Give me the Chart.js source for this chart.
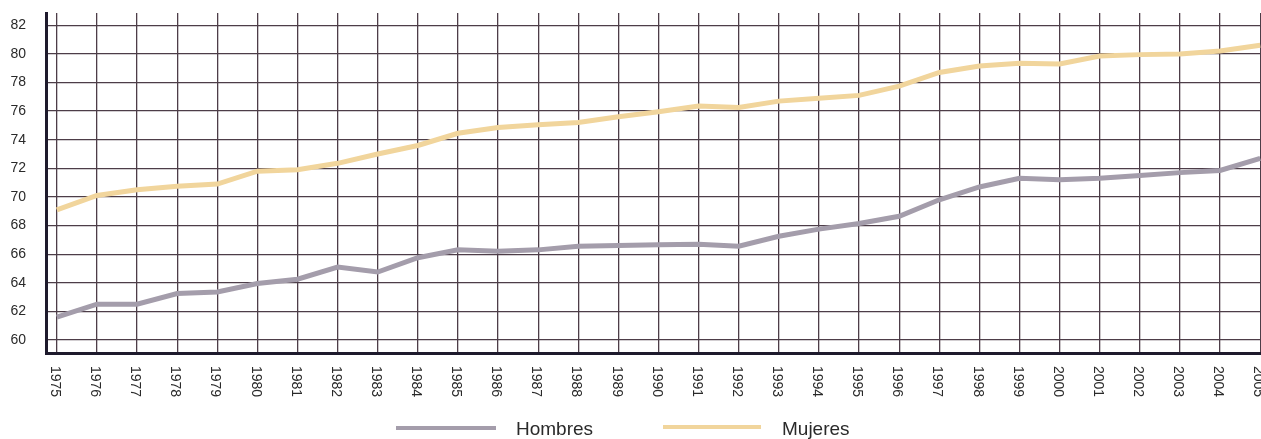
<!DOCTYPE html>
<html>
<head>
<meta charset="utf-8">
<script src="https://cdn.jsdelivr.net/npm/chart.js@4/dist/chart.umd.min.js"></script>
<style>
	html, body { margin: 0; padding: 0; background: #ffffff; }
	#wrap { position: relative; width: 1261px; height: 439px; overflow: hidden; }
	#grafico { position: absolute; left: 0; top: 0; }
	.leyenda-linea { position: absolute; height: 4px; }
	.leyenda-texto { position: absolute; font-family: 'Liberation Sans', Arial, sans-serif; font-size: 19px; color: #2a2a2a; line-height: 20px; }
</style>
</head>
<body>
<div id="wrap">
	<canvas id="grafico" width="1261" height="439"></canvas>
	<div class="leyenda-linea" id="leg_h" style="left:396px; top:426px; width:100px;"></div>
	<div class="leyenda-texto" id="txt_h" style="left:516px; top:419px;"></div>
	<div class="leyenda-linea" id="leg_m" style="left:663px; top:425px; width:98px;"></div>
	<div class="leyenda-texto" id="txt_m" style="left:782px; top:419px;"></div>
</div>
<script>
// datos (esperanza de vida)
const years = [1975, 1976, 1977, 1978, 1979, 1980, 1981, 1982, 1983, 1984,
	1985, 1986, 1987, 1988, 1989, 1990, 1991, 1992, 1993, 1994,
	1995, 1996, 1997, 1998, 1999, 2000, 2001, 2002, 2003, 2004, 2005];
const hombres = [61.6, 62.5, 62.5, 63.25, 63.35, 63.95, 64.25, 65.1, 64.75, 65.75,
	66.3, 66.2, 66.3, 66.55, 66.6, 66.65, 66.7, 66.55, 67.25, 67.75,
	68.15, 68.65, 69.8, 70.7, 71.3, 71.2, 71.3, 71.5, 71.7, 71.85, 72.7];
const mujeres = [69.1, 70.1, 70.5, 70.75, 70.9, 71.8, 71.9, 72.35, 73.0, 73.6,
	74.45, 74.85, 75.05, 75.2, 75.6, 75.95, 76.35, 76.25, 76.7, 76.9,
	77.1, 77.75, 78.7, 79.15, 79.35, 79.3, 79.85, 79.95, 80.0, 80.2, 80.6];
const yTicks = [60, 62, 64, 66, 68, 70, 72, 74, 76, 78, 80, 82];
const seriesNames = ['Hombres', 'Mujeres'];
const seriesColors = ['#a49dab', '#f1d59c'];

document.addEventListener('DOMContentLoaded', function()
{
	buildLegend();
	drawChart();
});

function buildLegend()
{
	document.getElementById('leg_h').style.background = seriesColors[0];
	document.getElementById('leg_m').style.background = seriesColors[1];
	document.getElementById('txt_h').textContent = seriesNames[0];
	document.getElementById('txt_m').textContent = seriesNames[1];
}

// etiquetas de los anos giradas (se leen de arriba hacia abajo)
const yearLabels = {
	id: 'yearLabels',
	afterDraw(chart) {
		const ctx = chart.ctx;
		const xScale = chart.scales.x;
		ctx.save();
		ctx.fillStyle = '#2a2a2a';
		ctx.font = '14px "Liberation Sans", Arial, sans-serif';
		ctx.textAlign = 'left';
		ctx.textBaseline = 'middle';
		years.forEach(function(yr) {
			const px = xScale.getPixelForValue(yr);
			ctx.save();
			ctx.translate(px - 2, 366);
			ctx.rotate(Math.PI / 2);
			ctx.fillText(String(yr), 0, 0);
			ctx.restore();
		});
		ctx.restore();
	}
};

function drawChart()
{
	const ctx = document.getElementById('grafico').getContext('2d');
	new Chart(ctx, {
		type: 'line',
		data: {
			datasets: [
				{
					label: seriesNames[0],
					data: years.map((yr, i) => ({ x: yr, y: hombres[i] })),
					borderColor: seriesColors[0],
					borderWidth: 5,
					pointRadius: 0,
					tension: 0
				},
				{
					label: seriesNames[1],
					data: years.map((yr, i) => ({ x: yr, y: mujeres[i] })),
					borderColor: seriesColors[1],
					borderWidth: 5,
					pointRadius: 0,
					tension: 0
				}
			]
		},
		options: {
			responsive: false,
			animation: false,
			layout: { padding: { top: 13, left: 0, right: 0, bottom: 0 } },
			plugins: {
				legend: { display: false },
				tooltip: { enabled: false }
			},
			scales: {
				x: {
					type: 'linear',
					min: 1974.73,
					max: 2005.02,
					afterBuildTicks: function(scale) {
						scale.ticks = years.map(v => ({ value: v }));
					},
					afterFit: function(scale) {
						scale.height = 86;
						scale.paddingLeft = 0;
						scale.paddingRight = 0;
					},
					ticks: { display: false },
					grid: { color: '#4d3d48', lineWidth: 1.3, drawTicks: false },
					border: { color: '#1e1a2c', width: 3 }
				},
				y: {
					min: 59.09,
					max: 82.86,
					afterBuildTicks: function(scale) {
						scale.ticks = yTicks.map(v => ({ value: v }));
					},
					afterFit: function(scale) {
						// el padding de las etiquetas no debe empujar el area del grafico
						scale.width = 46;
						scale.paddingTop = 0;
						scale.paddingBottom = 0;
					},
					ticks: {
						padding: 20,
						color: '#2a2a2a',
						font: { family: '"Liberation Sans", Arial, sans-serif', size: 14 }
					},
					grid: { color: '#4d3d48', lineWidth: 1.3, drawTicks: false },
					border: { color: '#1e1a2c', width: 3 }
				}
			}
		},
		plugins: [yearLabels]
	});
}
</script>
</body>
</html>
